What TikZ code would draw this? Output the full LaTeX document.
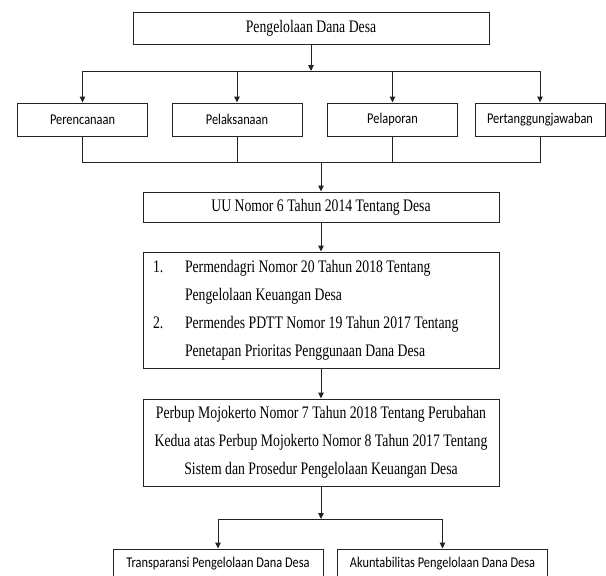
\documentclass[tikz,border=0pt]{standalone}
\usepackage{fontspec}
\setmainfont{Liberation Serif}[FakeStretch=0.78]
\newfontfamily\calibri{Carlito}[FakeStretch=0.83]
\usepackage{tikz}
\usetikzlibrary{arrows.meta}
\definecolor{garisGray}{RGB}{35,35,35}

\begin{document}
\begin{tikzpicture}[x=1pt,y=-1pt,
  induk/.style={rectangle,draw=garisGray,line width=1pt,minimum width=356pt,align=flush center,
                font=\fontsize{17.6}{28}\selectfont,inner sep=0pt},
  tahap/.style={rectangle,draw=garisGray,line width=1pt,minimum width=130pt,minimum height=33pt,
                font=\calibri\fontsize{14.9}{16}\selectfont},
  hasil/.style={rectangle,draw=garisGray,line width=1pt,minimum width=210pt,minimum height=30pt,
                font=\calibri\fontsize{14.9}{16}\selectfont},
  panah/.style={-{Triangle[length=6pt,width=5.5pt]},line width=1pt,garisGray},
  garis/.style={line width=1pt,garisGray}
]
  \useasboundingbox (0,0) rectangle (606,576);

  \node[induk,minimum height=32pt](top) at (311,28)  {Pengelolaan Dana Desa};
  \node[tahap](p1) at (82.5,119.5) {Perencanaan};
  \node[tahap](p2) at (237,119.5)  {Pelaksanaan};
  \node[tahap](p3) at (392.5,119.5){Pelaporan};
  \node[tahap](p4) at (540,119.5)  {Pertanggungjawaban};
  \node[induk,minimum height=30pt](uu) at (321,207) {UU Nomor 6 Tahun 2014 Tentang Desa};
  \node[induk,minimum height=116pt,text width=336pt,align=flush left,inner xsep=10pt](permen) at (321,310)
      {\makebox[32pt][l]{1.}Permendagri Nomor 20 Tahun 2018 Tentang\\
       \hspace*{32pt}Pengelolaan Keuangan Desa\\
       \makebox[32pt][l]{2.}Permendes PDTT Nomor 19 Tahun 2017 Tentang\\
       \hspace*{32pt}Penetapan Prioritas Penggunaan Dana Desa};
  \node[induk,minimum height=87pt](perbup) at (321,442.5)
      {Perbup Mojokerto Nomor 7 Tahun 2018 Tentang Perubahan\\
       Kedua atas Perbup Mojokerto Nomor 8 Tahun 2017 Tentang\\
       Sistem dan Prosedur Pengelolaan Keuangan Desa};
  \node[hasil](t1) at (218,564)   {Transparansi Pengelolaan Dana Desa};
  \node[hasil](t2) at (442.5,564) {Akuntabilitas Pengelolaan Dana Desa};

  \coordinate (bagi) at (311,71);
  \coordinate (gabung) at (321,162);
  \coordinate (cabang) at (321,519);

  \draw[panah](top)--(bagi);
  \foreach \n in {p1,p2,p3,p4}
    \draw[panah](bagi)-|(\n.north);
  \foreach \n in {p1,p2,p3,p4}
    \draw[garis](\n.south)|-(gabung);
  \draw[panah](gabung)--(uu);
  \draw[panah](uu)--(permen);
  \draw[panah](permen)--(perbup);
  \draw[panah](perbup)--(cabang);
  \draw[panah](cabang)-|(t1.north);
  \draw[panah](cabang)-|(t2.north);
\end{tikzpicture}
\end{document}
